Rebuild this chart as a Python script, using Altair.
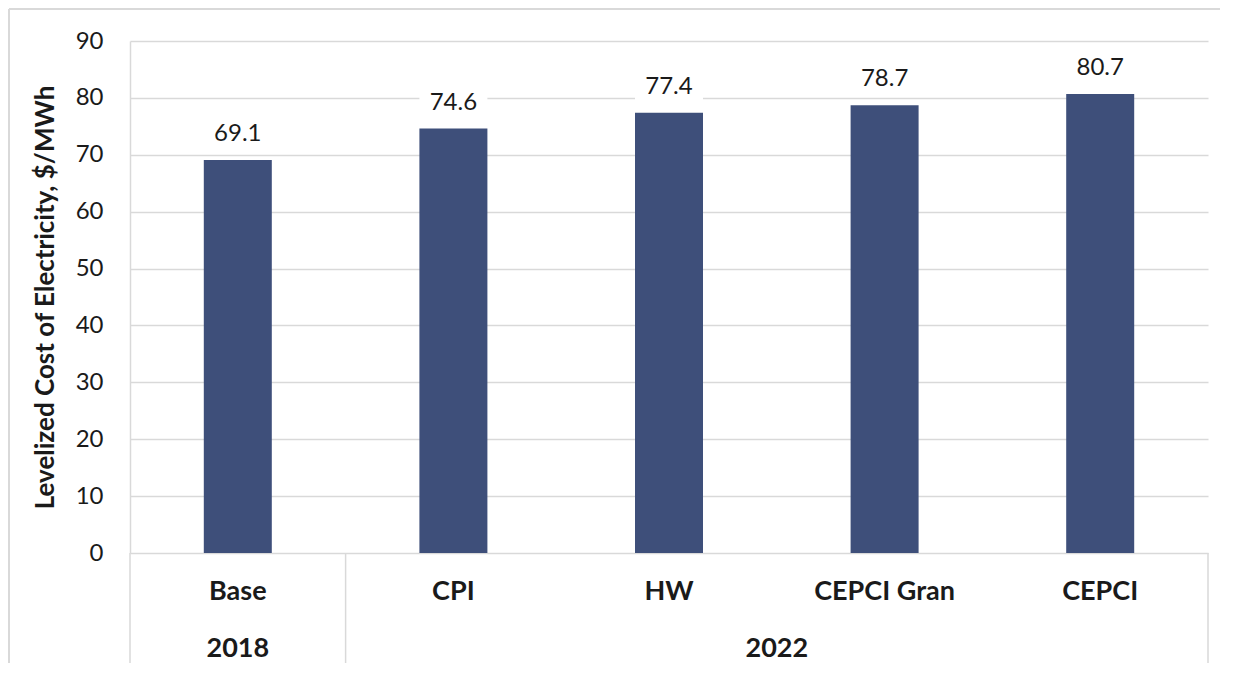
import altair as alt
import pandas as pd

categories = ["Base", "CPI", "HW", "CEPCI Gran", "CEPCI"]
years = ["2018", "2022", "2022", "2022", "2022"]
values = [69.1, 74.6, 77.4, 78.7, 80.7]
y_ticks = [0, 10, 20, 30, 40, 50, 60, 70, 80, 90]
y_title = "Levelized Cost of Electricity, $/MWh"

n = len(categories)
df = pd.DataFrame({
    "category": categories,
    "year": years,
    "value": values,
    "pos": [i + 0.5 for i in range(n)],
})
bounds = [0] + [i for i in range(1, n) if years[i] != years[i - 1]] + [n]
sep = pd.DataFrame({"b": bounds})

W, H = 1078, 512
PAD_R = 12
FONT = "Lato"
GRID = "#D9D9D9"
BAR = "#3E4F7A"
TXT = "#1A1A1A"

xs = alt.Scale(domain=[0, n], nice=False, zero=False, padding=0)
x = alt.X("pos:Q", scale=xs, axis=None)

bars = alt.Chart(df).mark_bar(color=BAR, size=68).encode(
    x=x,
    y=alt.Y(
        "value:Q",
        scale=alt.Scale(domain=[0, 90], nice=False),
        axis=alt.Axis(
            values=y_ticks,
            title=y_title,
            grid=True,
            gridColor=GRID,
            gridWidth=1.5,
            domain=True,
            domainColor=GRID,
            domainWidth=1.5,
            ticks=False,
            labelFont=FONT,
            labelFontSize=24,
            labelColor=TXT,
            labelPadding=27,
            titleFont=FONT,
            titleFontSize=26,
            titleFontWeight="bold",
            titleColor=TXT,
            titleAngle=-90,
            titleX=-85,
            titleY=H / 2,
            titleAlign="center",
            titleBaseline="middle",
        ),
    ),
)

# white label boxes (as in the spreadsheet original) hiding gridlines behind labels
boxes = alt.Chart(df).transform_calculate(
    b0="datum.value + 2", b1="datum.value + 8"
).mark_bar(color="white", size=68).encode(
    x=x, y="b0:Q", y2="b1:Q",
)

labels = alt.Chart(df).mark_text(
    font=FONT, fontSize=24, baseline="alphabetic", dy=-19, color=TXT,
).encode(x=x, y="value:Q", text=alt.Text("value:Q", format=".1f"))

cat_labels = alt.Chart(df).mark_text(
    font=FONT, fontSize=27, fontWeight="bold", baseline="middle", color=TXT,
).encode(x=x, y=alt.value(H + 39), text="category:N")

grp_labels = alt.Chart(df).transform_aggregate(
    pos="mean(pos)", groupby=["year"]
).mark_text(
    font=FONT, fontSize=27, fontWeight="bold", baseline="middle", color=TXT,
).encode(x=x, y=alt.value(H + 95.5), text="year:N")

seps = alt.Chart(sep).mark_rule(color=GRID, strokeWidth=1.5).encode(
    x=alt.X("b:Q", scale=xs, axis=None),
    y=alt.value(H),
    y2=alt.value(H + 113),
)

one = pd.DataFrame({"a": [0]})
frame_top = alt.Chart(one).mark_rule(color=GRID, strokeWidth=2).encode(
    x=alt.value(-121), x2=alt.value(W + PAD_R), y=alt.value(-32),
)
frame_left = alt.Chart(one).mark_rule(color=GRID, strokeWidth=2).encode(
    x=alt.value(-121), y=alt.value(-32), y2=alt.value(H + 300),
)

chart = alt.layer(
    frame_top, frame_left, bars, seps, boxes, labels, cat_labels, grp_labels
).properties(
    width=W,
    height=H,
    padding={"left": 122, "top": 33, "right": PAD_R, "bottom": 110},
    autosize=alt.AutoSizeParams(type="none"),
).configure_view(stroke=None)

chart.save("out.html", embed_options={"renderer": "svg", "actions": False})
